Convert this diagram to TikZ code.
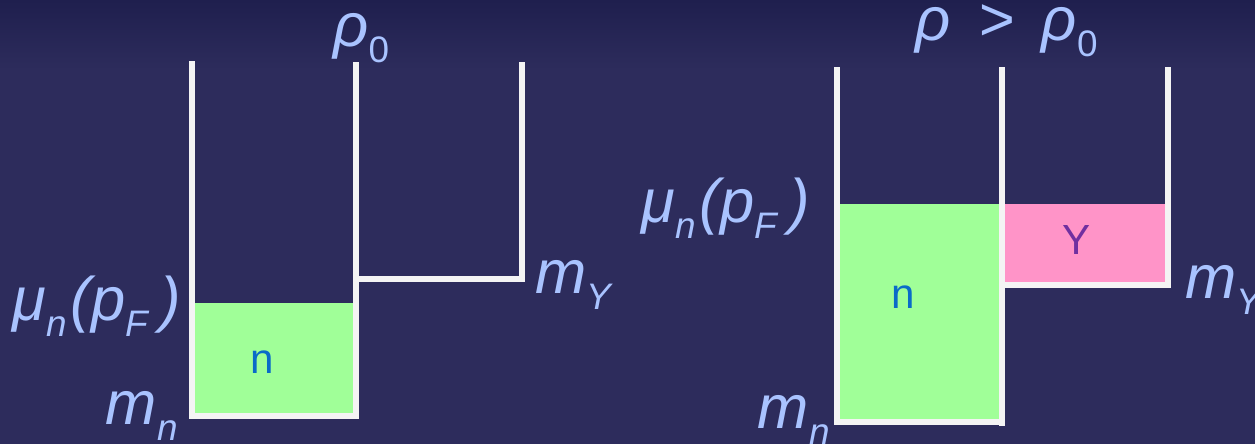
\documentclass[tikz,border=0pt]{standalone}
\usepackage{fontspec}
\setmainfont{Liberation Sans}
\usepackage{xcolor}
\usepackage{tikz}
\usetikzlibrary{
    positioning,
    calc
}

\definecolor{bgblue}{HTML}{2D2C5C}
\definecolor{bgtop}{HTML}{1F1F4E}
\definecolor{lblblue}{HTML}{A9C3FF}
\definecolor{nfill}{HTML}{A0FF98}
\definecolor{yfill}{HTML}{FF94C8}
\definecolor{nblue}{HTML}{0A6BC8}
\definecolor{ypurple}{HTML}{7030A0}
\definecolor{wallwhite}{HTML}{F4F4F4}

\newcommand{\lowidx}[1]{\raisebox{-0.27em}{\fontsize{21}{21}\selectfont #1}}

\begin{document}
\begin{tikzpicture}[
        x=0.02cm, y=-0.02cm,
        wall/.style={
            draw=wallwhite,
            line width=3.6pt
        },
        levellabel/.style={
            text=lblblue,
            inner sep=0pt,
            font=\fontsize{35}{35}\selectfont\itshape
        },
        particle/.style={
            inner sep=0pt,
            font=\fontsize{24}{24}\selectfont
        }
    ]

    % background
    \useasboundingbox (0,0) rectangle (1255,444);
    \fill[bgblue] (0,0) rectangle (1255,444);
    \shade[top color=bgtop, bottom color=bgblue] (0,0) rectangle (1255,70);

    % left wells, density rho_0
    \fill[nfill] (195,303) rectangle (353,413);
    \draw[wall] (192,61) -- (192,419);
    \draw[wall] (192,416) -- (356,416);
    \draw[wall] (356,62) -- (356,419);
    \draw[wall] (356,279) -- (522,279);
    \draw[wall] (522,62) -- (522,282);

    \node[particle, text=nblue] (nleft) at (262,362) {n};

    \node[levellabel, anchor=base west] (rhozero) at (333,46)
        {ρ\lowidx{\upshape 0}};
    \node[levellabel, anchor=base east] (muleft) at (181,320)
        {μ\lowidx{n}\hspace{0.06em}(p\lowidx{F}\hspace{0.2em})};
    \node[levellabel, anchor=base east] (mnleft) at (178,424)
        {m\lowidx{n}};
    \node[levellabel, anchor=base west] (myleft) at (535,293)
        {m\lowidx{Y}};

    % right wells, density rho > rho_0
    \fill[nfill] (840,204) rectangle (999,419);
    \fill[yfill] (1005,204) rectangle (1165,282);
    \draw[wall] (837,67) -- (837,425);
    \draw[wall] (837,422) -- (1002,422);
    \draw[wall] (1002,67) -- (1002,426);
    \draw[wall] (1002,285) -- (1168,285);
    \draw[wall] (1168,67) -- (1168,288);

    \node[particle, text=nblue] (nright) at (903,297) {n};
    \node[particle, text=ypurple] (yright) at (1077,240) {Y};

    \node[levellabel, anchor=base west] (rhobig) at (915,40)
        {ρ\hspace{0.45em}>\hspace{0.45em}ρ\lowidx{\upshape 0}};
    \node[levellabel, anchor=base east] (muright) at (810,222)
        {μ\lowidx{n}\hspace{0.06em}(p\lowidx{F}\hspace{0.2em})};
    \node[levellabel, anchor=base east] (mnright) at (830,428)
        {m\lowidx{n}};
    \node[levellabel, anchor=base west] (myright) at (1185,298)
        {m\lowidx{Y}};

\end{tikzpicture}
\end{document}
